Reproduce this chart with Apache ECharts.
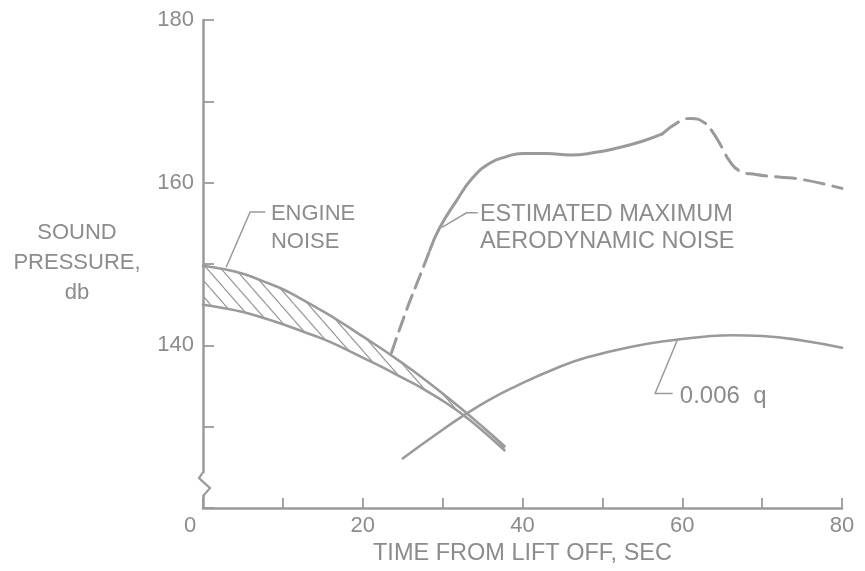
<!DOCTYPE html>
<html><head><meta charset="utf-8">
<script src="https://cdn.jsdelivr.net/npm/echarts@6/dist/echarts.min.js"></script>
<style>html,body{margin:0;padding:0;background:#fff}#c{width:865px;height:571px}</style>
</head><body><div id="c"></div>
<script>
// ---- data ----
const xTicks = [0, 20, 40, 60, 80];
const yTicks = [140, 160, 180];

const engineX     = [0, 2.5, 5, 7.5, 10, 12.5, 15, 17.5, 20, 22.5, 25, 27.5, 30, 32.5, 35, 37.75];
const engineUpper = [149.8, 149.4, 148.8, 147.9, 146.9, 145.6, 144.2, 142.7, 141.1, 139.5, 137.8, 136.0, 134.1, 132.1, 130.0, 127.6];
const engineLower = [145.0, 144.6, 144.1, 143.4, 142.6, 141.7, 140.8, 139.7, 138.5, 137.3, 136.0, 134.7, 133.2, 131.5, 129.5, 127.1];

const aeroRiseX  = [23.6, 25.5, 27.1, 28.4];
const aeroRiseY  = [139.1, 144.4, 148.4, 151.7];
const aeroSolidX = [28.4, 29.6, 31.75, 33.75, 35.9, 38, 40, 43, 46, 49, 52, 55, 57.5];
const aeroSolidY = [151.7, 154.4, 157.8, 160.6, 162.4, 163.2, 163.6, 163.6, 163.4, 163.7, 164.3, 165.1, 166.0];
const aeroTailX  = [57.5, 59.6, 61.1, 62.75, 63.75, 65, 65.9, 67.1, 69.2, 72.1, 75, 80];
const aeroTailY  = [166.0, 167.5, 167.9, 167.4, 166.3, 164.3, 162.7, 161.5, 161.0, 160.7, 160.4, 159.3];

const qX = [25, 28.8, 32.5, 36, 39.2, 44, 48, 54, 59.2, 63, 66.3, 70, 75, 80];
const qY = [126.1, 128.8, 131.3, 133.4, 135.0, 137.1, 138.5, 139.9, 140.7, 141.1, 141.25, 141.15, 140.6, 139.7];

const labelTexts = ['ENGINE\nNOISE', 'ESTIMATED MAXIMUM\nAERODYNAMIC NOISE', '0.006  q'];
const labelAt    = [[8.5, 154.45], [34.67, 154.4], [59.7, 133.7]];
const leaders    = [
  [[2.9, 149.6], [5.9, 156.4], [7.8, 156.4]],
  [[29.9, 154.5], [33.0, 156.3], [34.4, 156.3]],
  [[59.4, 140.7], [56.6, 134.1], [58.8, 134.1]]
];
const axisBreak = [121.6, 124.3];

// ---- styling ----
const LINE = '#9a9a9a';
const TEXT = '#8c8c8c';
const FONT = '"Liberation Sans", Arial, sans-serif';
const pairs = (xs, ys) => xs.map((x, i) => [x, ys[i]]);

function hatchCanvas() {
  const w = 14, h = 16;
  const c = document.createElement('canvas');
  c.width = w; c.height = h;
  const g = c.getContext('2d');
  g.strokeStyle = LINE; g.lineWidth = 1.2;
  for (const o of [-w, 0, w]) { g.beginPath(); g.moveTo(o, 0); g.lineTo(o + w, h); g.stroke(); }
  return c;
}
const hatch = hatchCanvas();

const chart = echarts.init(document.getElementById('c'), null, {renderer: 'canvas'});

const lineSeries = (data, width, dash, smooth) => ({
  type: 'line', data, showSymbol: false, symbol: 'none', smooth: smooth,
  lineStyle: {color: LINE, width, type: dash || 'solid', cap: 'round', join: 'round'},
  z: 3, silent: true, animation: false
});

chart.setOption({
  animation: false,
  backgroundColor: '#fff',
  grid: {left: 203, right: 23, top: 20, bottom: 61, containLabel: false},
  xAxis: {
    type: 'value', min: 0, max: 80, interval: 10,
    axisLine: {show: true, lineStyle: {color: LINE, width: 2.5}},
    axisTick: {show: true, inside: true, length: 10, lineStyle: {color: LINE, width: 1.8}},
    splitLine: {show: false},
    axisLabel: {
      color: TEXT, fontSize: 22, fontFamily: FONT, margin: 7,
      formatter: v => xTicks.includes(v) ? (v === 0 ? '{z|0}' : String(v)) : '',
      rich: {z: {color: TEXT, fontSize: 22, fontFamily: FONT, padding: [0, 26, 0, 0]}}
    },
    name: 'TIME FROM LIFT OFF, SEC', nameLocation: 'middle', nameGap: 30,
    nameTextStyle: {color: TEXT, fontSize: 23.5, fontFamily: FONT}
  },
  yAxis: {
    type: 'value', min: 120, max: 180, interval: 10,
    axisLine: {show: true, lineStyle: {color: LINE, width: 2.5}},
    axisTick: {show: true, inside: true, length: 11, lineStyle: {color: LINE, width: 1.8}},
    splitLine: {show: false},
    axisLabel: {
      color: TEXT, fontSize: 22, fontFamily: FONT, margin: 9,
      formatter: v => yTicks.includes(v) ? String(v) : ''
    }
  },
  graphic: [{
    type: 'text', x: 77, y: 263,
    style: {text: 'SOUND\nPRESSURE,\ndb', fill: TEXT, font: '22px ' + FONT, align: 'center', verticalAlign: 'middle', lineHeight: 30}
  }],
  series: [
    {
      type: 'custom', data: [[engineX[0], engineUpper[0]]], silent: true, z: 2, animation: false,
      renderItem: (params, api) => {
        const pts = engineX.map((x, i) => api.coord([x, engineUpper[i]]));
        for (let i = engineX.length - 1; i >= 0; i--) pts.push(api.coord([engineX[i], engineLower[i]]));
        return {type: 'polygon', shape: {points: pts}, style: {fill: {image: hatch, repeat: 'repeat'}, stroke: null}};
      }
    },
    lineSeries(pairs(engineX, engineUpper), 2.6, 'solid', 0.5),
    lineSeries(pairs(engineX, engineLower), 2.6, 'solid', 0.5),
    lineSeries(pairs(aeroRiseX, aeroRiseY), 3, [15, 8], 0.5),
    lineSeries(pairs(aeroSolidX, aeroSolidY), 3, 'solid', 0.5),
    lineSeries(pairs(aeroTailX, aeroTailY), 3, [20, 9], 0.5),
    lineSeries(pairs(qX, qY), 2.6, 'solid', 0.5),
    {
      type: 'custom', data: labelAt.map((p, i) => [p[0], p[1], i]), silent: true, z: 4, animation: false,
      renderItem: (params, api) => {
        const i = params.dataIndex;
        const p = api.coord(labelAt[i]);
        const big = i === 0 ? 22 : (i === 1 ? 23.5 : 24);
        return {type: 'group', children: [
          {type: 'polyline', shape: {points: leaders[i].map(q => api.coord(q))}, style: {stroke: LINE, lineWidth: 1.5, fill: null}},
          {type: 'text', x: p[0], y: p[1], style: {text: labelTexts[i], fill: TEXT, font: big + 'px ' + FONT, align: 'left', verticalAlign: 'middle', lineHeight: 27.5}}
        ]};
      }
    },
    {
      type: 'custom', data: [[0, axisBreak[0]]], silent: true, z: 5, animation: false,
      renderItem: (params, api) => {
        const b = api.coord([0, axisBreak[0]]);
        const t = api.coord([0, axisBreak[1]]);
        const x = t[0];
        return {type: 'group', children: [
          {type: 'rect', shape: {x: x - 3, y: t[1], width: 6, height: b[1] - t[1]}, style: {fill: '#fff'}},
          {type: 'polyline', shape: {points: [[x, t[1] - 1], [x - 4, t[1] + 5], [x + 7, t[1] + 15], [x, b[1] + 1]]}, style: {stroke: LINE, lineWidth: 2.2, fill: null}}
        ]};
      }
    }
  ]
});
</script></body></html>
